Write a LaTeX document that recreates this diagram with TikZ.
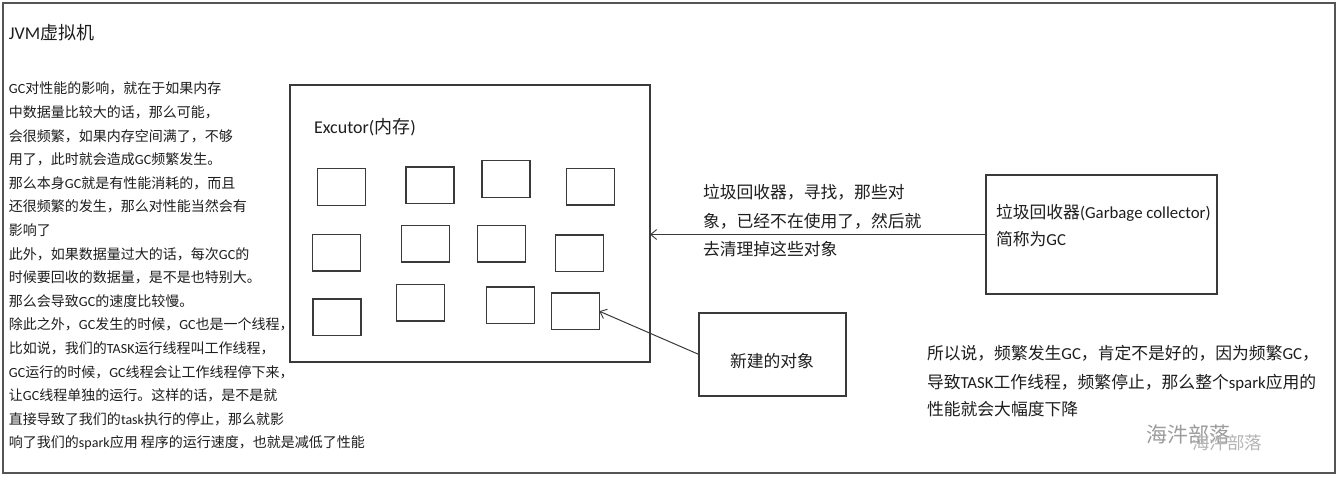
\documentclass[tikz,border=0pt]{standalone}
\usepackage{fontspec}
\setmainfont{Noto Sans CJK SC}
\newfontfamily\latf{Carlito}
\newcommand\lat[1]{{\latf #1}}
\usetikzlibrary{arrows.meta}
\definecolor{ink}{HTML}{1E1E1E}
\definecolor{linec}{HTML}{3A3A3A}
\definecolor{framec}{HTML}{555555}
\definecolor{wm}{HTML}{9C9C9C}
\definecolor{wmlight}{HTML}{B4B4B4}
\begin{document}
\begin{tikzpicture}[x=1pt,y=-1pt,
  every node/.style={inner sep=0pt,outer sep=0pt,text=ink},
  frame/.style={draw=framec,line width=1.4pt},
  bigbox/.style={draw=linec,line width=1.2pt,rectangle},
  obj/.style={draw=linec,line width=1.2pt,rectangle,minimum width=48pt,minimum height=36.5pt},
  lt/.style={anchor=base west,font=\fontsize{14}{16}\selectfont},
  mt/.style={anchor=base west,font=\fontsize{16.8}{19}\selectfont},
  conn/.style={draw=linec,line width=1pt,-{Straight Barb[length=6pt,width=10pt,line width=0.9pt]}}]
\useasboundingbox (0,0) rectangle (1341,480);
\fill[white] (0,0) rectangle (1341,480);
\draw[frame] (3,3) rectangle (1335,473);

% title
\node[anchor=base west,font=\fontsize{18}{21}\selectfont] (title) at (9,39.5) {\lat{JVM}虚拟机};

% left text
\node[lt] (t1) at (9,93.8) {\lat{GC}对性能的影响，就在于如果内存};
\node[lt] (t2) at (9,117.4) {中数据量比较大的话，那么可能，};
\node[lt] (t3) at (9,141.0) {会很频繁，如果内存空间满了，不够};
\node[lt] (t4) at (9,164.6) {用了，此时就会造成\lat{GC}频繁发生。};
\node[lt] (t5) at (9,188.2) {那么本身\lat{GC}就是有性能消耗的，而且};
\node[lt] (t6) at (9,211.8) {还很频繁的发生，那么对性能当然会有};
\node[lt] (t7) at (9,235.4) {影响了};
\node[lt] (t8) at (9,259.0) {此外，如果数据量过大的话，每次\lat{GC}的};
\node[lt] (t9) at (9,282.6) {时候要回收的数据量，是不是也特别大。};
\node[lt] (t10) at (9,306.2) {那么会导致\lat{GC}的速度比较慢。};
\node[lt] (t11) at (9,329.8) {除此之外，\lat{GC}发生的时候，\lat{GC}也是一个线程，};
\node[lt] (t12) at (9,353.4) {比如说，我们的\lat{TASK}运行线程叫工作线程，};
\node[lt] (t13) at (9,377.0) {\lat{GC}运行的时候，\lat{GC}线程会让工作线程停下来，};
\node[lt] (t14) at (9,400.6) {让\lat{GC}线程单独的运行。这样的话，是不是就};
\node[lt] (t15) at (9,424.2) {直接导致了我们的\lat{task}执行的停止，那么就影};
\node[lt] (t16) at (9,447.8) {响了我们的\lat{spark}应用 程序的运行速度，也就是减低了性能};

% executor
\node[bigbox,minimum width=360pt,minimum height=277pt] (exec) at (470,223.5) {};
\node[anchor=base west,font=\fontsize{18}{21}\selectfont] (execl) at (314,133.8) {\lat{Excutor(}内存\lat{)}};

\node[obj] (b1) at (341.3,187.0) {};
\node[obj] (b2) at (430.0,185.2) {};
\node[obj] (b3) at (506.0,179.0) {};
\node[obj] (b4) at (590.5,186.7) {};
\node[obj] (b5) at (336.3,252.7) {};
\node[obj] (b6) at (425.3,243.7) {};
\node[obj] (b7) at (501.3,243.7) {};
\node[obj] (b8) at (579.5,253.3) {};
\node[obj] (b9) at (337.0,317.3) {};
\node[obj] (b10) at (420.7,302.7) {};
\node[obj] (b11) at (510.7,305.2) {};
\node[obj] (b12) at (575.3,311.2) {};

% garbage collector
\node[bigbox,minimum width=231pt,minimum height=119pt] (gc) at (1101.5,234.5) {};
\node[mt] (gcl1) at (996,218.3) {垃圾回收器\lat{(Garbage collector)}};
\node[mt] (gcl2) at (996,245.3) {简称为\lat{GC}};

% middle text
\node[mt] (m1) at (703,198.1) {垃圾回收器，寻找，那些对};
\node[mt] (m2) at (703,227.4) {象，已经不在使用了，然后就};
\node[mt] (m3) at (703,255.7) {去清理掉这些对象};

% new object
\node[bigbox,minimum width=147pt,minimum height=83pt] (new) at (772.5,354.5) {};
\node[anchor=base,font=\fontsize{16.8}{19}\selectfont] (newl) at (772,367.4) {新建的对象};

% right text
\node[mt] (r1) at (927,359.4) {所以说，频繁发生\lat{GC}，肯定不是好的，因为频繁\lat{GC}，};
\node[mt] (r2) at (927,388.1) {导致\lat{TASK}工作线程，频繁停止，那么整个\lat{spark}应用的};
\node[mt] (r3) at (927,415.4) {性能就会大幅度下降};

% watermark
\node[anchor=base west,font=\fontsize{21}{24}\selectfont,text=wm] (wm1) at (1146,442) {海汼部落};
\node[anchor=base west,font=\fontsize{17.5}{20}\selectfont,text=wmlight] (wm2) at (1192,449.7) {海汼部落};

% connectors
\draw[conn] (gc.west) -- (gc.west -| exec.east);
\draw[conn] (new.west) -- (b12.east);
\end{tikzpicture}
\end{document}
